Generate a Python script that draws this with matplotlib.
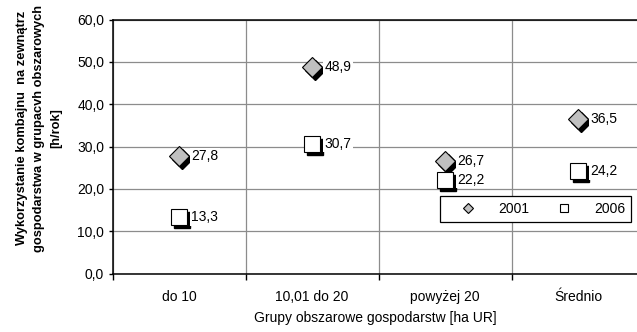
import matplotlib
matplotlib.use('Agg')
from matplotlib import pyplot as plt
from matplotlib.lines import Line2D
from matplotlib.transforms import ScaledTranslation
from matplotlib.ticker import FuncFormatter

plt.rcParams['font.family'] = ['Liberation Sans', 'DejaVu Sans']

groups = ['do 10', '10,01 do 20', 'powyżej 20', 'Średnio']
years = ['2001', '2006']
y2001 = [27.8, 48.9, 26.7, 36.5]
y2006 = [13.3, 30.7, 22.2, 24.2]

W, H = 637, 332
fig = plt.figure(figsize=(W / 100, H / 100), dpi=100)
ax = fig.add_axes([112.5 / W, (H - 273.7) / H, 532 / W, 254.2 / H])

x = list(range(len(groups)))
shadow = ax.transData + ScaledTranslation(3 / 100, -3 / 100, fig.dpi_scale_trans)

# black drop shadows under the markers
ax.plot(x, y2001, 'D', ms=10, mfc='black', mec='black', transform=shadow, zorder=3, clip_on=False)
ax.plot(x, y2006, 's', ms=11.5, mfc='black', mec='black', transform=shadow, zorder=3, clip_on=False)
ax.plot(x, y2001, 'D', ms=10, mfc='#c0c0c0', mec='black', mew=0.8, zorder=4, clip_on=False)
ax.plot(x, y2006, 's', ms=11.5, mfc='white', mec='black', mew=0.8, zorder=4, clip_on=False)

for series in (y2001, y2006):
    for xi, v in zip(x, series):
        ax.annotate(f'{v:.1f}'.replace('.', ','), (xi, v), xytext=(9, 0),
                    textcoords='offset points', va='center', ha='left', fontsize=10,
                    bbox=dict(boxstyle='square,pad=0.1', fc='white', ec='none'), zorder=5)

ax.set_xlim(-0.5, 3.5)
ax.set_ylim(0, 60)
ax.set_yticks(range(0, 61, 10))
ax.yaxis.set_major_formatter(FuncFormatter(lambda v, p: f'{v:.1f}'.replace('.', ',')))
ax.set_xticks([-0.5, 0.5, 1.5, 2.5, 3.5])
ax.set_xticklabels([])
ax.set_xticks(x, minor=True)
ax.set_xticklabels(groups, minor=True)
ax.tick_params(axis='x', which='major', length=4, width=1, direction='out')
ax.tick_params(axis='x', which='minor', length=0, pad=12, labelsize=10)
ax.tick_params(axis='y', length=3, width=1, direction='out', pad=3, labelsize=10)

ax.grid(True, which='major', color='#8c8c8c', lw=0.9)
ax.set_axisbelow(True)
for s in ax.spines.values():
    s.set_color('black')
    s.set_linewidth(1.1)

fig.text(375 / W, 1 - 318 / H, 'Grupy obszarowe gospodarstw [ha UR]', ha='center', va='center', fontsize=10)
fig.text(39 / W, 1 - 128 / H,
         'Wykorzystanie kombajnu  na zewnątrz\ngospodarstwa w grupacvh obszarowych\n[h/rok]',
         rotation=90, ha='center', va='center', fontsize=9.3, fontweight='bold',
         multialignment='center', linespacing=1.55)

handles = [Line2D([], [], ls='none', marker='D', ms=5, mfc='#c0c0c0', mec='black', mew=0.8),
           Line2D([], [], ls='none', marker='s', ms=6, mfc='white', mec='black', mew=0.8)]
leg = ax.legend(handles, years, ncol=2, loc='center', fontsize=10,
                bbox_to_anchor=(535.5 / W, 1 - 209 / H), bbox_transform=fig.transFigure,
                frameon=True, fancybox=False, framealpha=1, edgecolor='black',
                borderpad=0.4, handlelength=3.2, handletextpad=0.6, columnspacing=0.9)
leg.get_frame().set_linewidth(0.9)

fig.savefig('out.png', dpi=100)
